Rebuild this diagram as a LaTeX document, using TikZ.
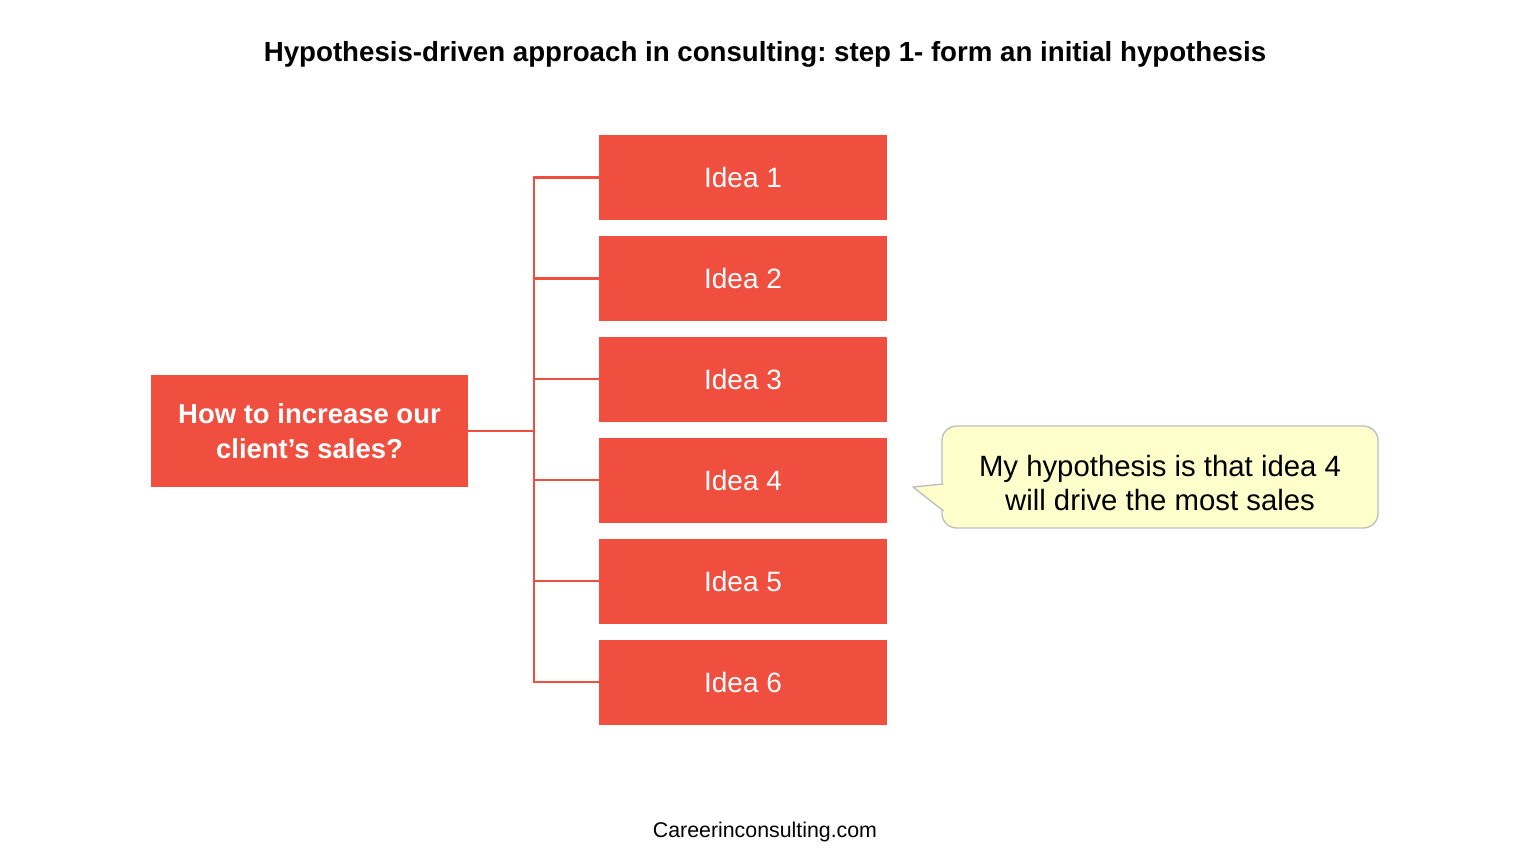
\documentclass[tikz,border=0pt]{standalone}
\usepackage{fontspec}
\setmainfont{Liberation Sans}
\frenchspacing
\definecolor{ideared}{RGB}{240,78,62}
\definecolor{calloutfill}{RGB}{255,255,204}
\definecolor{calloutline}{RGB}{190,190,190}
\tikzset{
  ideabox/.style={fill=ideared, draw=none, minimum width=216pt, minimum height=63.75pt, inner sep=0pt, text=white, font=\fontsize{21}{25}\selectfont},
  qbox/.style={fill=ideared, draw=none, minimum width=237.75pt, minimum height=84pt, inner sep=0pt, text=white, align=center, font=\bfseries\fontsize{20.6}{26}\selectfont},
  conn/.style={draw=ideared, line width=1.6pt},
  callout/.style={fill=calloutfill, draw=calloutline, line width=1pt, rounded corners=11pt, minimum width=327pt, minimum height=76.5pt, inner sep=0pt, align=center},
}
\begin{document}
\begin{tikzpicture}[x=0.75pt,y=-0.75pt]
\useasboundingbox (0,0) rectangle (1536,863);
\node (title) at (765,54) {\bfseries\fontsize{20.75}{24}\selectfont Hypothesis-driven approach in consulting: step 1- form an initial hypothesis};
\node[qbox] (q) at (309.5,431) {How to increase our\\client’s sales?};
\foreach \i/\y in {1/177.5,2/278.5,3/379,4/480,5/581,6/682}{
  \node[ideabox] (i\i) at (743,\y) {Idea \i};
}
\coordinate (jt) at (534,177.5);
\coordinate (jb) at (534,682);
\coordinate (jm) at (534,431);
\draw[conn] (q.east) -- (jm);
\draw[conn] (i1.west) -- (jt) -- (jb) -- (i6.west);
\foreach \i in {2,3,4,5}{
  \draw[conn] (i\i.west) -- (i\i.west -| jm);
}
\node[callout] (c) at (1160,477) {};
\node[align=center, font=\fontsize{22}{26}\selectfont] (ct) at (1160,483) {My hypothesis is that idea 4\\will drive the most sales};
\coordinate (tip) at (913,487);
\coordinate (pa) at (943.5,484);
\coordinate (pb) at (943.5,511);
\fill[calloutfill] (pa) -- (tip) -- (pb) -- ([xshift=3pt]pb) -- ([xshift=3pt]pa) -- cycle;
\draw[calloutline, line width=1pt, line join=round] (pa) -- (tip) -- (pb);
\node (foot) at (765,832) {\fontsize{16}{18}\selectfont Careerinconsulting.com};
\end{tikzpicture}
\end{document}
